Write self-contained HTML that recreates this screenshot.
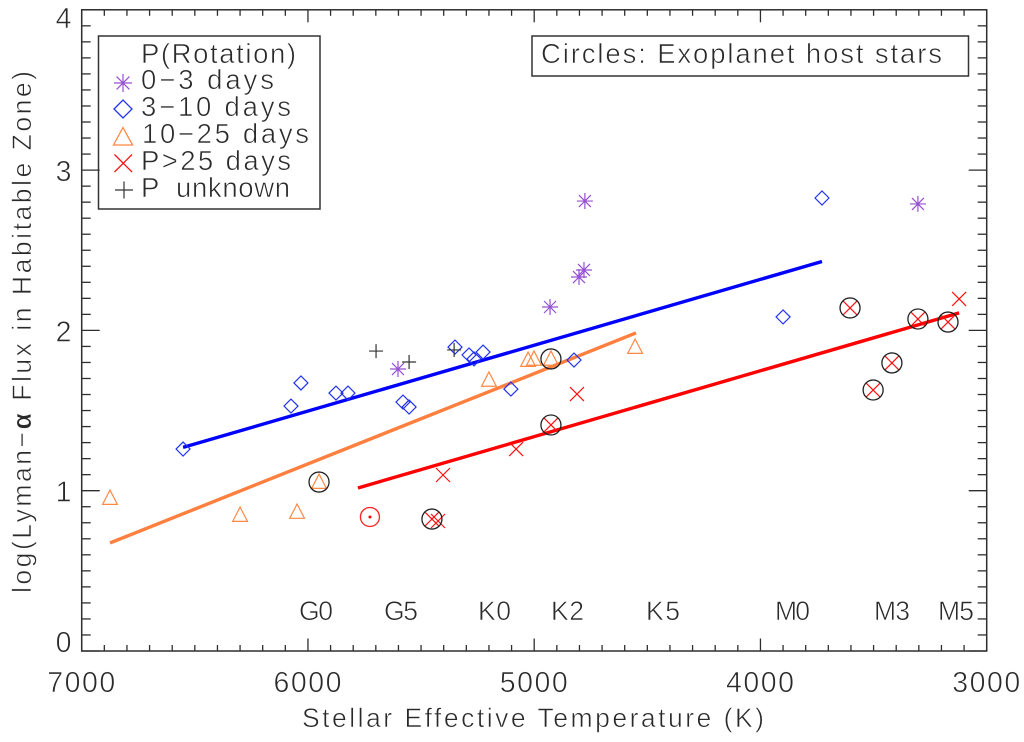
<!DOCTYPE html>
<html>
<head>
<meta charset="utf-8">
<title>Lyman-alpha flux vs stellar effective temperature</title>
<style>
html,body{margin:0;padding:0;background:#fff;}
svg{display:block;}
text{font-family:"Liberation Sans","DejaVu Sans",sans-serif;fill:#2a2a2a;stroke:#fff;stroke-width:.6px;white-space:pre;}
</style>
</head>
<body>
<svg id="chart" xmlns="http://www.w3.org/2000/svg" width="1024" height="742" viewBox="0 0 1024 742">
  <rect x="0" y="0" width="1024" height="742" fill="#fff"/>
  <g id="axes"></g>
  <g id="fits"></g>
  <g id="marks"></g>

  <text x="302" y="727" font-size="26.500" textLength="462">Stellar Effective Temperature (K)</text>
  <text transform="translate(31,593) rotate(-90)" font-size="26.500" textLength="522">log(Lyman−<tspan font-weight="bold">α</tspan> Flux in Habitable Zone)</text>

  <text x="299" y="620" font-size="26.500" textLength="34">G0</text>
  <text x="384" y="620" font-size="26.500" textLength="34">G5</text>
  <text x="478" y="620" font-size="26.500" textLength="33">K0</text>
  <text x="551" y="620" font-size="26.500" textLength="33">K2</text>
  <text x="646" y="620" font-size="26.500" textLength="34">K5</text>
  <text x="775" y="620" font-size="26.500" textLength="35">M0</text>
  <text x="874" y="620" font-size="26.500" textLength="36">M3</text>
  <text x="938" y="620" font-size="26.500" textLength="36">M5</text>

  <g>
    <rect x="98.500" y="36" width="221.500" height="173" fill="none" stroke="#333" stroke-width="1.5"/>
    <text x="141" y="63" font-size="27.500" textLength="155">P(Rotation)</text>
    <g>
      <path d="M114 83H132M123 74V92M116.600 76.600L129.400 89.400M116.600 89.400L129.400 76.600" fill="none" stroke="#9650d2" stroke-width="1.2"/>
      <text x="141" y="89" font-size="27.500" textLength="133">0−3 days</text>
    </g>
    <g>
      <path d="M114 109L123 100L132 109L123 118Z" fill="none" stroke="#2233ee" stroke-width="1.3"/>
      <text x="141" y="116" font-size="27.500" textLength="150">3−10 days</text>
    </g>
    <g>
      <path d="M123 127.500L132.500 145H113.500Z" fill="none" stroke="#ff8844" stroke-width="1.3"/>
      <text x="142" y="143" font-size="27.500" textLength="167">10−25 days</text>
    </g>
    <g>
      <path d="M114.500 154.500L132 172M132 154.500L114.500 172" fill="none" stroke="#ff1111" stroke-width="1.3"/>
      <text x="141" y="170" font-size="27.500" textLength="150">P&gt;25 days</text>
    </g>
    <g>
      <path d="M115 190H133M124 181.500V198.500" fill="none" stroke="#333" stroke-width="1.2"/>
      <text x="141" y="197" font-size="27.500" textLength="149">P  unknown</text>
    </g>
  </g>

  <g>
    <rect x="532" y="36" width="436.500" height="40" fill="none" stroke="#333" stroke-width="1.5"/>
    <text x="541" y="63" font-size="27.500" textLength="401">Circles: Exoplanet host stars</text>
  </g>
</svg>

<script>
// Tick labels
var xTickLabels = [7000, 6000, 5000, 4000, 3000];
var yTickLabels = [0, 1, 2, 3, 4];

// Series values: effective temperature (K) and log flux
var starTemps = [4776, 4780, 4802, 4930, 5602, 3304];
var starFlux = [2.807, 2.377, 2.333, 2.146, 1.759, 2.789];

var diamondTemps = [6552, 6075, 6031, 5876, 5823, 5580, 5553, 5350, 5288, 5266, 5226, 5103, 4824, 3900, 3728];
var diamondFlux = [1.26, 1.528, 1.672, 1.609, 1.609, 1.553, 1.522, 1.896, 1.847, 1.822, 1.865, 1.634, 1.815, 2.084, 2.826];

var triangleTemps = [6875, 6300, 6048, 5951, 5200, 5027, 5001, 4926, 4554];
var triangleFlux = [0.954, 0.848, 0.867, 1.054, 1.691, 1.815, 1.822, 1.822, 1.896];

var crossTemps = [3122, 4811, 4926, 5080, 5403, 5452, 5425, 3604, 3304, 3171, 3419, 3502];
var crossFlux = [2.196, 1.603, 1.41, 1.26, 1.098, 0.823, 0.811, 2.14, 2.071, 2.052, 1.797, 1.628];

var plusTemps = [5699, 5553, 5354];
var plusFlux = [1.871, 1.803, 1.878];

var hostTemps = [5951, 4926, 4926, 5452, 3604, 3304, 3171, 3419, 3502];
var hostFlux = [1.054, 1.822, 1.41, 0.823, 2.14, 2.071, 2.052, 1.797, 1.628];

var sunTemps = [5726];
var sunFlux = [0.836];

// Fit lines: end points in data units
var blueFitTemps = [6552, 3728];
var blueFitFlux = [1.27, 2.43];
var orangeFitTemps = [6875, 4550];
var orangeFitFlux = [0.674, 1.984];
var redFitTemps = [5779, 3122];
var redFitFlux = [1.017, 2.109];

var NS = 'http://www.w3.org/2000/svg';
function xScale(t) { return 81.7 + (7000 - t) * 0.22625; }
function yScale(v) { return 651 - v * 160.3; }

function mk(tag, attrs, parent) {
  var el = document.createElementNS(NS, tag);
  for (var k in attrs) { el.setAttribute(k, attrs[k]); }
  parent.appendChild(el);
  return el;
}

var axes = document.getElementById('axes');
var fits = document.getElementById('fits');
var marks = document.getElementById('marks');
var AXIS = '#2e2e2e';

// Axis frame
var frame = mk('rect', {x: xScale(7000), y: yScale(4), width: xScale(3000) - xScale(7000), height: yScale(0) - yScale(4), fill: 'none', stroke: AXIS, 'stroke-width': 1.5}, axes);



// X ticks, bottom and top
for (var t = 7000; t >= 3000; t -= 100) {
  var isMajorX = t % 1000 === 0;
  var lenX = isMajorX ? 12.5 : 6;
  var xb = mk('line', {x1: xScale(t), x2: xScale(t), y1: yScale(0), y2: yScale(0) - lenX, stroke: AXIS, 'stroke-width': 1.3}, axes);
  
  
  var xt = mk('line', {x1: xScale(t), x2: xScale(t), y1: yScale(4), y2: yScale(4) + lenX, stroke: AXIS, 'stroke-width': 1.3}, axes);
  
  
}

// Y ticks, left and right
for (var i = 0; i <= 40; i++) {
  var v = i / 10;
  var lenY = i % 10 === 0 ? 18 : 9;
  var yl = mk('line', {x1: xScale(7000), x2: xScale(7000) + lenY, y1: yScale(v), y2: yScale(v), stroke: AXIS, 'stroke-width': 1.3}, axes);
  
  
  var yr = mk('line', {x1: xScale(3000), x2: xScale(3000) - lenY, y1: yScale(v), y2: yScale(v), stroke: AXIS, 'stroke-width': 1.3}, axes);
  
  
}

// Tick labels
xTickLabels.forEach(function (label) {
  var el = mk('text', {x: xScale(label) - 0.5, y: 692, 'font-size': 28.5, 'text-anchor': 'middle', textLength: 68}, axes);
  el.textContent = String(label);
  
  
});
yTickLabels.forEach(function (label) {
  var base = Math.max(28, Math.min(652, yScale(label) + 11));
  var el = mk('text', {x: 71.5, y: base, 'font-size': 28.5, 'text-anchor': 'end'}, axes);
  el.textContent = String(label);
  
  
});

// Fit lines
function drawFit(temps, flux, color, name) {
  var el = mk('line', {x1: xScale(temps[0]), y1: yScale(flux[0]), x2: xScale(temps[1]), y2: yScale(flux[1]), stroke: color, 'stroke-width': 3.4}, fits);
  
  
}
drawFit(blueFitTemps, blueFitFlux, '#0000ff', 'fit-line-3-10-days');
drawFit(orangeFitTemps, orangeFitFlux, '#ff7f3f', 'fit-line-10-25-days');
drawFit(redFitTemps, redFitFlux, '#ff0000', 'fit-line-p-over-25-days');

// Marker paths, centred on the data point
var STAR_PATH = 'M-8 0H8M0 -8V8M-6 -6L6 6M-6 6L6 -6';
var DIAMOND_PATH = 'M-7 0L0 -7L7 0L0 7Z';
var TRIANGLE_PATH = 'M0 -8L7.400 6.300H-7.400Z';
var CROSS_PATH = 'M-7 -7L7 7M7 -7L-7 7';
var PLUS_PATH = 'M-7 0H7M0 -7V7';

function drawSeries(temps, flux, path, color, name) {
  temps.forEach(function (t, idx) {
    var el = mk('path', {d: path, fill: 'none', stroke: color, 'stroke-width': 1.2, transform: 'translate(' + xScale(t) + ',' + yScale(flux[idx]) + ')'}, marks);
    
    
  });
}
drawSeries(starTemps, starFlux, STAR_PATH, '#9650d2', 'point-0-3-days');
drawSeries(diamondTemps, diamondFlux, DIAMOND_PATH, '#2233ee', 'point-3-10-days');
drawSeries(triangleTemps, triangleFlux, TRIANGLE_PATH, '#ff8844', 'point-10-25-days');
drawSeries(crossTemps, crossFlux, CROSS_PATH, '#ff1111', 'point-p-over-25-days');
drawSeries(plusTemps, plusFlux, PLUS_PATH, '#333333', 'point-p-unknown');

// Exoplanet host circles
hostTemps.forEach(function (t, idx) {
  var el = mk('circle', {cx: xScale(t), cy: yScale(hostFlux[idx]), r: 10, fill: 'none', stroke: '#222', 'stroke-width': 1.3}, marks);
  
  
});

// Sun symbol
sunTemps.forEach(function (t, idx) {
  var ring = mk('circle', {cx: xScale(t), cy: yScale(sunFlux[idx]), r: 9.5, fill: 'none', stroke: '#ff2222', 'stroke-width': 1.3}, marks);
  
  
  var dot = mk('circle', {cx: xScale(t), cy: yScale(sunFlux[idx]), r: 1.5, fill: '#ff0000'}, marks);
  
  
});
</script>
</body>
</html>
